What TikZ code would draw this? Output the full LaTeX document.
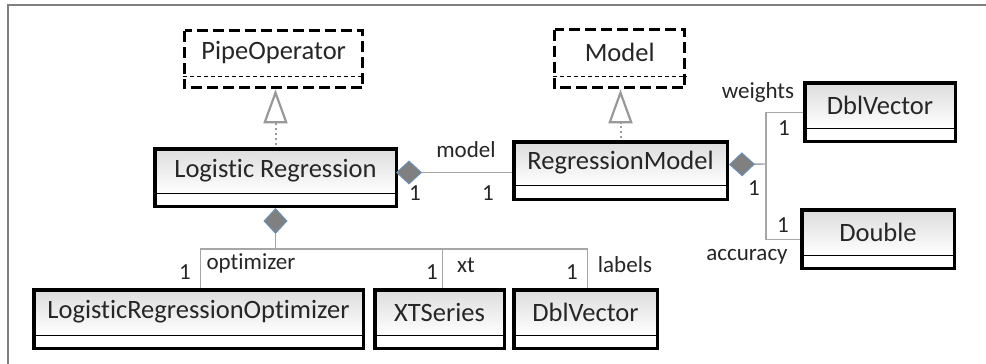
\documentclass[tikz,border=0pt]{standalone}
\usepackage{fontspec}
\setmainfont{Carlito}[Ligatures=NoCommon]
\usetikzlibrary{arrows.meta}
\definecolor{txt}{HTML}{262626}
\definecolor{conn}{HTML}{A6A6A6}
\definecolor{dfill}{HTML}{808080}
\definecolor{dline}{HTML}{6A8FB5}
\tikzset{
  namepart/.style={top color=black!14, bottom color=white, draw=black, line width=1pt,
    inner sep=0pt, anchor=north west, text=txt, font=\fontsize{26.5}{30}\selectfont},
  attrpart/.style={fill=white, draw=black, line width=1pt, inner sep=0pt, anchor=north west},
  outerbox/.style={draw=black, line width=3.5pt},
  ifname/.style={fill=white, inner sep=0pt, anchor=north west, text=txt,
    font=\fontsize{26.5}{30}\selectfont},
  ifattr/.style={inner sep=0pt, anchor=north west},
  ifouter/.style={draw=black, line width=3pt, dash pattern=on 11pt off 5pt},
  ifsep/.style={draw=black, line width=1pt, dash pattern=on 4pt off 3pt},
  assoc/.style={draw=conn, line width=1.4pt},
  lbl/.style={font=\fontsize{23}{26}\selectfont, text=txt, inner sep=0pt},
  comp/.style={arrows={Diamond[length=26pt,width=24pt,fill=dfill,color=dline,line width=1pt]-}},
  realize/.style={arrows={-Triangle[open,length=34pt,width=24pt,line width=2.2pt]},
    draw=black!40, line width=2pt, dash pattern=on 2pt off 3pt}
}
% #1 name, #2 x1, #3 y1, #4 x2, #5 ymid, #6 y2, #7 text
\newcommand\umlclass[7]{%
  \node[namepart, minimum width={#4-#2}, minimum height={#5-#3}] (#1) at (#2,#3) {#7};
  \node[attrpart, minimum width={#4-#2}, minimum height={#6-#5}] (#1-a) at (#2,#5) {};
  \draw[outerbox] ([shift={(1.75pt,-1.75pt)}]#1.north west) rectangle ([shift={(-1.75pt,1.75pt)}]#1-a.south east);
}
\newcommand\umliface[7]{%
  \node[ifname, minimum width={#4-#2}, minimum height={#5-#3}] (#1) at (#2,#3) {#7};
  \node[ifattr, minimum width={#4-#2}, minimum height={#6-#5}] (#1-a) at (#2,#5) {};
  \draw[ifsep] (#1.south west) -- (#1.south east);
  \draw[ifouter] ([shift={(1.5pt,-1.5pt)}]#1.north west) rectangle ([shift={(-1.5pt,1.5pt)}]#1-a.south east);
}
\begin{document}
\begin{tikzpicture}[x=1pt,y=-1pt]
\useasboundingbox (0,0) rectangle (986,364);
\fill[white] (0,0) rectangle (986,364);
\draw[black!50, line width=2pt] (986,5) -- (8,5) -- (8,364);

\umliface{po}{183}{29}{364}{76}{89}{PipeOperator}
\umliface{mdl}{553}{28}{686}{76}{89}{Model}

\umlclass{lr}{153}{147}{397}{193}{207}{Logistic Regression}
\umlclass{rm}{512}{140}{728}{185}{200}{RegressionModel}
\umlclass{dva}{803}{81}{956}{128}{142}{DblVector}
\umlclass{dbl}{800}{208}{955}{255}{269}{Double}
\umlclass{lro}{32}{288}{364}{335}{349}{LogisticRegressionOptimizer}
\umlclass{xts}{373}{288}{505}{335}{349}{XTSeries}
\umlclass{dvb}{512}{288}{658}{335}{349}{DblVector}

% realizations
\draw[realize] ([yshift=1.75pt]lr.north) -- (lr.north |- po-a.south);
\draw[realize] ([yshift=1.75pt]rm.north) -- (rm.north |- mdl-a.south);

% LR -- RM
\coordinate (m1) at ([shift={(-2pt,-2pt)}]lr.east);
\draw[assoc, comp] (m1) -- (m1 -| rm.west);

% RM -- DblVector / Double
\coordinate (r0) at ([yshift=-1.5pt]rm.east);
\coordinate (rj) at (766,164);
\draw[assoc, comp] (r0) -- (rj);
\draw[assoc] ([yshift=-7.5pt]dva.west) -| (rj) |- ([yshift=-7.5pt]dbl.west);

% LR -- bottom classes
\coordinate (bj) at (lr-a.south |- 0,249);
\draw[assoc, comp] (lr-a.south) -- (bj);
\draw[assoc] ([xshift=2pt]lro.north) |- (bj) -| ([xshift=3pt]xts.north);
\draw[assoc] (bj) -| ([xshift=2pt]dvb.north);

% labels
\node[lbl] (lmodel) at (466,150) {model};
\node[lbl] (lm1) at (415,193) {1};
\node[lbl] (lm2) at (488,193) {1};
\node[lbl] (lweights) at (758,92) {weights};
\node[lbl] (lw1) at (784,128) {1};
\node[lbl] (lr1) at (754,188) {1};
\node[lbl] (la1) at (783,225) {1};
\node[lbl] (lacc) at (747,257) {accuracy};
\node[lbl] (lo1) at (185,272) {1};
\node[lbl] (lopt) at (251,263) {optimizer};
\node[lbl] (lx1) at (432,272) {1};
\node[lbl] (lxt) at (466,265) {xt};
\node[lbl] (ll1) at (572,272) {1};
\node[lbl] (llab) at (625,265) {labels};
\end{tikzpicture}
\end{document}
